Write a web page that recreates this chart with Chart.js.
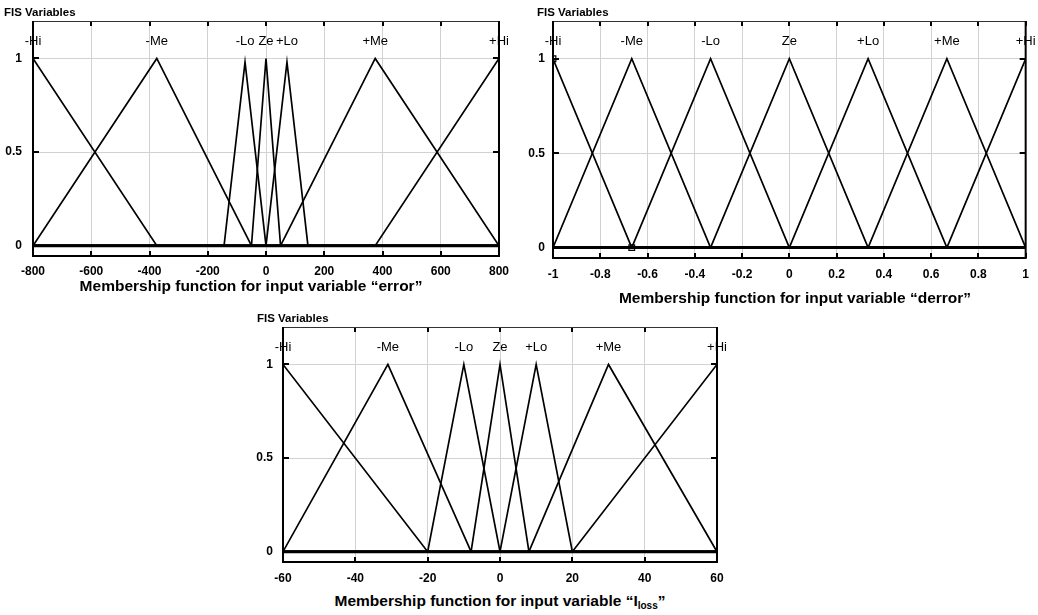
<!DOCTYPE html>
<html>
<head>
<meta charset="utf-8">
<script src="https://cdn.jsdelivr.net/npm/chart.js@4.4.1/dist/chart.umd.min.js"></script>
<style>
    body { margin: 0; background: #fff; font-family: "Liberation Sans", Arial, sans-serif; }
    #pagina { position: relative; width: 1038px; height: 615px; overflow: hidden; }
    .quadro { position: absolute; }
    .fis { position: absolute; font-size: 11.5px; font-weight: bold; color: #000; white-space: nowrap; }
    .titulo { position: absolute; font-size: 15.5px; font-weight: bold; color: #000; white-space: nowrap; transform: translateX(-50%); }
    .titulo sub { font-size: 10px; vertical-align: -3px; }
</style>
</head>
<body>
<div id="pagina">
    <div class="quadro" style="left:0;top:0;width:525px;height:282px"><canvas id="graficoError"></canvas></div>
    <div class="quadro" style="left:520px;top:0;width:518px;height:284px"><canvas id="graficoDerror"></canvas></div>
    <div class="quadro" style="left:250px;top:300px;width:490px;height:290px"><canvas id="graficoIloss"></canvas></div>

    <div class="fis" style="left:4px;top:6px">FIS Variables</div>
    <div class="fis" style="left:537px;top:6px">FIS Variables</div>
    <div class="fis" style="left:257px;top:312px">FIS Variables</div>

    <div class="titulo" style="left:251px;top:277px">Membership function for input variable “error”</div>
    <div class="titulo" style="left:795px;top:289px">Membership function for input variable “derror”</div>
    <div class="titulo" style="left:500px;top:592px">Membership function for input variable “I<sub>loss</sub>”</div>
</div>

<script>
// nomes das funções de pertinência (iguais nas três variáveis)
const nomesMF = ['-Hi', '-Me', '-Lo', 'Ze', '+Lo', '+Me', '+Hi']

// variável "error": pé esquerdo, pico e pé direito de cada triângulo
const errorInicio = [-800, -800, -144, -50, 0, 50, 375]
const errorPico = [-800, -375, -72, 0, 72, 375, 800]
const errorFim = [-375, -50, 0, 50, 144, 800, 800]
const errorAltura = [1, 1, 0.98, 1, 0.98, 1, 1]
const errorTicks = [-800, -600, -400, -200, 0, 200, 400, 600, 800]

// variável "derror"
const derrorInicio = [-1, -1, -0.6667, -0.3333, 0, 0.3333, 0.6667]
const derrorPico = [-1, -0.6667, -0.3333, 0, 0.3333, 0.6667, 1]
const derrorFim = [-0.6667, -0.3333, 0, 0.3333, 0.6667, 1, 1]
const derrorAltura = [1, 1, 1, 1, 1, 1, 1]
const derrorTicks = [-1, -0.8, -0.6, -0.4, -0.2, 0, 0.2, 0.4, 0.6, 0.8, 1]
// vértices marcados da MF selecionada (-Hi)
const derrorMarcas = [[-1, 1], [-0.6667, 0]]

// variável "Iloss"
const ilossInicio = [-60, -60, -20, -8, 0, 8, 20]
const ilossPico = [-60, -31, -10, 0, 10, 30, 60]
const ilossFim = [-20, -8, 0, 8, 20, 60, 60]
const ilossAltura = [1, 1, 1, 1, 1, 1, 1]
const ilossTicks = [-60, -40, -20, 0, 20, 40, 60]

const yTicks = [0, 0.5, 1]

Chart.defaults.font.family = '"Liberation Sans", Arial, sans-serif'
Chart.defaults.color = '#000'

// moldura preta com marcas de escala para dentro, como no editor de FIS
const moldura = {
    id: 'moldura',
    afterDraw(chart) {
        const { ctx, chartArea: a, scales } = chart
        const x = scales.x
        const y = scales.y
        ctx.save()
        ctx.strokeStyle = '#000'
        ctx.lineWidth = 2
        ctx.beginPath()
        x.ticks.forEach(t => {
            const px = Math.round(x.getPixelForValue(t.value))
            ctx.moveTo(px, a.bottom); ctx.lineTo(px, a.bottom - 5)
            ctx.moveTo(px, a.top); ctx.lineTo(px, a.top + 5)
        })
        y.ticks.forEach(t => {
            const py = Math.round(y.getPixelForValue(t.value))
            ctx.moveTo(a.left, py); ctx.lineTo(a.left + 6, py)
            ctx.moveTo(a.right, py); ctx.lineTo(a.right - 6, py)
        })
        ctx.stroke()

        // topo fino, demais lados grossos
        ctx.lineWidth = 1
        ctx.strokeStyle = '#333'
        ctx.beginPath()
        ctx.moveTo(a.left, a.top + 0.5); ctx.lineTo(a.right, a.top + 0.5)
        ctx.stroke()
        ctx.lineWidth = 2
        ctx.strokeStyle = '#000'
        ctx.beginPath()
        ctx.moveTo(a.left, a.top); ctx.lineTo(a.left, a.bottom)
        ctx.lineTo(a.right, a.bottom); ctx.lineTo(a.right, a.top)
        ctx.stroke()
        ctx.restore()
    }
}

// nome de cada MF escrito acima do seu pico
const rotulosMF = {
    id: 'rotulosMF',
    afterDatasetsDraw(chart, args, opts) {
        const { ctx, scales } = chart
        ctx.save()
        ctx.font = '13px "Liberation Sans", Arial, sans-serif'
        ctx.fillStyle = '#000'
        ctx.textAlign = 'center'
        ctx.textBaseline = 'middle'
        opts.picos.forEach((p, i) => {
            ctx.fillText(nomesMF[i], scales.x.getPixelForValue(p), scales.y.getPixelForValue(1.09))
        })
        ctx.restore()
    }
}

function montarDatasets(inicio, pico, fim, altura, min, max) {
    const conjuntos = []
    // linha de base em zero (todas as MFs se sobrepõem aqui)
    conjuntos.push({
        data: [{ x: min, y: 0 }, { x: max, y: 0 }],
        borderColor: '#000',
        borderWidth: 3,
        pointRadius: 0,
        showLine: true
    })
    for (let i = 0; i < nomesMF.length; i++) {
        const pontos = []
        if (inicio[i] > min) pontos.push({ x: min, y: 0 })
        pontos.push({ x: inicio[i], y: inicio[i] === pico[i] ? altura[i] : 0 })
        if (inicio[i] !== pico[i] && fim[i] !== pico[i]) pontos.push({ x: pico[i], y: altura[i] })
        pontos.push({ x: fim[i], y: fim[i] === pico[i] ? altura[i] : 0 })
        if (fim[i] < max) pontos.push({ x: max, y: 0 })
        conjuntos.push({
            label: nomesMF[i],
            data: pontos,
            borderColor: '#000',
            borderWidth: 1.7,
            pointRadius: 0,
            showLine: true
        })
    }
    return conjuntos
}

function criarGrafico(id, ticksX, inicio, pico, fim, altura, extras, layout) {
    const min = ticksX[0]
    const max = ticksX[ticksX.length - 1]
    const datasets = montarDatasets(inicio, pico, fim, altura, min, max).concat(extras)
    const ctx = document.getElementById(id).getContext('2d')
    return new Chart(ctx, {
        type: 'scatter',
        data: { datasets },
        options: {
            responsive: true,
            maintainAspectRatio: false,
            animation: false,
            layout: { padding: { top: layout.topo, right: layout.direita, left: 0, bottom: 0 } },
            plugins: {
                legend: { display: false },
                tooltip: { enabled: false },
                rotulosMF: { picos: pico }
            },
            scales: {
                x: {
                    type: 'linear',
                    min: min,
                    max: max,
                    afterBuildTicks: s => { s.ticks = ticksX.map(v => ({ value: v })) },
                    afterFit: s => { s.height = layout.alturaX },
                    grid: { color: '#d2d2d2', lineWidth: 1, drawTicks: false },
                    border: { display: false },
                    ticks: {
                        padding: layout.padX,
                        maxRotation: 0,
                        autoSkip: false,
                        font: { size: 12, weight: 'bold' },
                        callback: v => String(v)
                    }
                },
                y: {
                    min: -0.055,
                    max: 1.2,
                    afterBuildTicks: s => { s.ticks = yTicks.map(v => ({ value: v })) },
                    afterFit: s => { s.width = 33 },
                    grid: { color: '#d2d2d2', lineWidth: 1, drawTicks: false },
                    border: { display: false },
                    ticks: {
                        padding: layout.padY,
                        font: { size: 12, weight: 'bold' },
                        callback: v => String(v)
                    }
                }
            }
        },
        plugins: [moldura, rotulosMF]
    })
}

criarGrafico('graficoError', errorTicks, errorInicio, errorPico, errorFim, errorAltura, [],
    { topo: 21, direita: 26, alturaX: 26, padX: 8, padY: 11 })

criarGrafico('graficoDerror', derrorTicks, derrorInicio, derrorPico, derrorFim, derrorAltura, [{
    data: derrorMarcas.map(m => ({ x: m[0], y: m[1] })),
    pointStyle: 'rect',
    pointRadius: 4,
    borderColor: '#000',
    borderWidth: 1.2,
    backgroundColor: 'rgba(0,0,0,0)',
    showLine: false
}], { topo: 21, direita: 11, alturaX: 26, padX: 9, padY: 8 })

criarGrafico('graficoIloss', ilossTicks, ilossInicio, ilossPico, ilossFim, ilossAltura, [],
    { topo: 27, direita: 23, alturaX: 28, padX: 9, padY: 10 })
</script>
</body>
</html>
